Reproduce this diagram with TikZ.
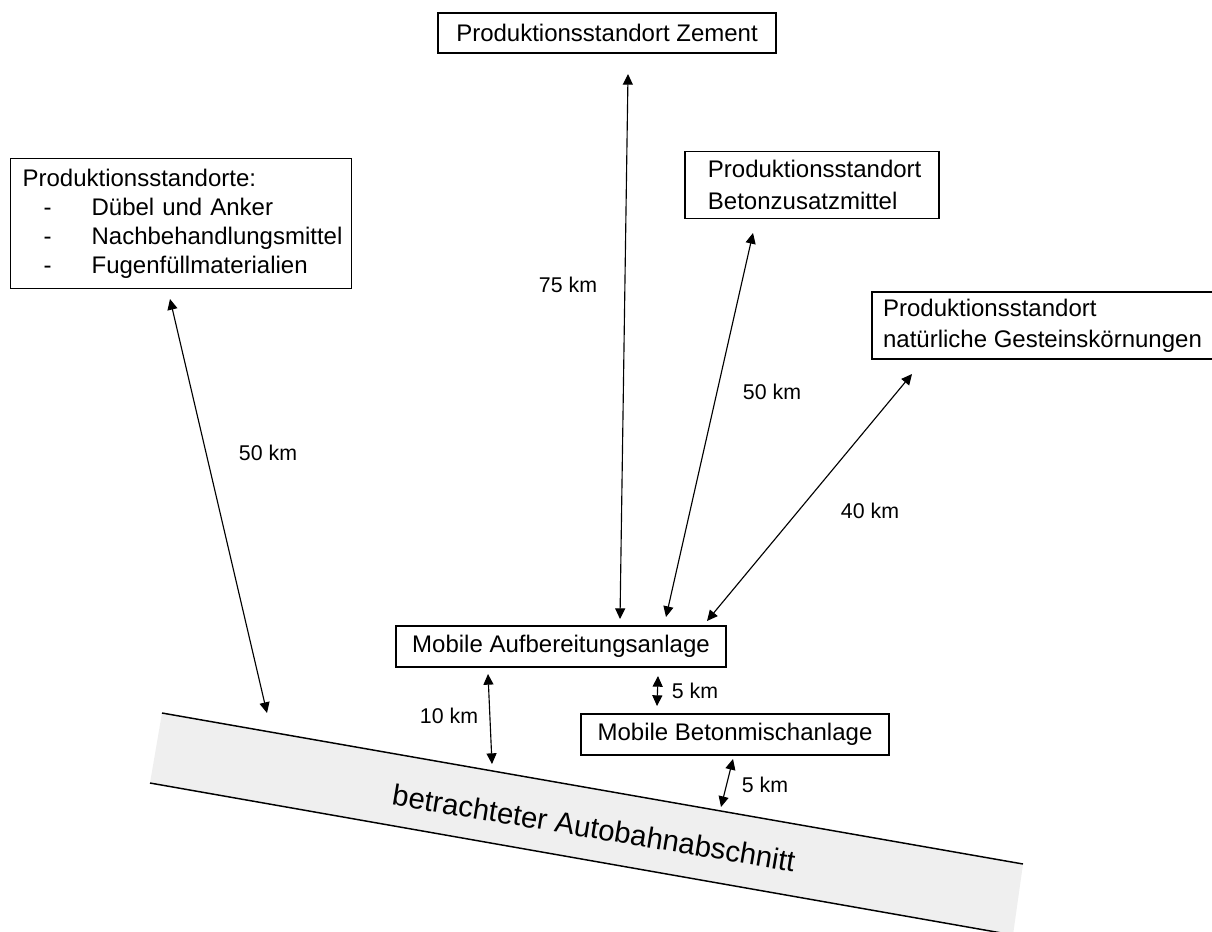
\documentclass[tikz,border=0pt]{standalone}
\usepackage{fontspec}
\setmainfont{Liberation Sans}
\usetikzlibrary{arrows.meta}
\definecolor{roadfill}{HTML}{EFEFEF}
\begin{document}
\begin{tikzpicture}[x=0.75pt,y=-0.75pt,
  box/.style={draw=black, line width=0.9pt, fill=white, inner sep=0pt,
    font=\fontsize{18}{21.6}\selectfont},
  twoline/.style={align=left, font=\fontsize{18}{23.5}\selectfont},
  dist/.style={line width=0.85pt,
    {Triangle[length=8pt,width=7.5pt]}-{Triangle[length=8pt,width=7.5pt]}},
  lbl/.style={font=\fontsize{16}{19}\selectfont, inner sep=0pt},
  edge/.style={line width=1.1pt},
]
\useasboundingbox (0,0) rectangle (1212,931);

% motorway section
\fill[roadfill] (162,713) -- (1023,864) -- (1013,935) -- (150,783) -- cycle;
\draw[edge] (162,713) -- (1023,864);
\draw[edge] (150,783) -- (1013,935);
\node[rotate=-9.5, inner sep=0pt, font=\fontsize{22}{26}\selectfont] (road) at (594,828)
  {betrachteter Autobahnabschnitt};

% production sites and plants
\node[box, minimum width=338*0.75pt, minimum height=40*0.75pt] (zement) at (607,33)
  {Produktionsstandort Zement};
\node[box, twoline, minimum width=254*0.75pt, minimum height=67*0.75pt] (zusatz) at (812,185)
  {\hspace*{4pt}Produktionsstandort\\\hspace*{4pt}Betonzusatzmittel};
\node[box, twoline, minimum width=341*0.75pt, minimum height=67*0.75pt] (gestein) at (1042.5,325.5)
  {Produktionsstandort\\natürliche Gesteinskörnungen};
\node[box, anchor=north west, align=left, font=\fontsize{18}{21.8}\selectfont,
  minimum width=341*0.75pt, minimum height=130*0.75pt, text width=317*0.75pt] (quellen) at (10,158)
  {Produktionsstandorte:\\
   \hspace*{15.75pt}\makebox[36pt][l]{-}Dübel und Anker\\
   \hspace*{15.75pt}\makebox[36pt][l]{-}Nachbehandlungsmittel\\
   \hspace*{15.75pt}\makebox[36pt][l]{-}Fugenfüllmaterialien};
\node[box, minimum width=330*0.75pt, minimum height=41*0.75pt] (aufb) at (561,646.5)
  {Mobile Aufbereitungsanlage};
\node[box, minimum width=308*0.75pt, minimum height=41*0.75pt] (misch) at (735,734.5)
  {Mobile Betonmischanlage};

% arrow end points
\coordinate (zA) at (628,74);  \coordinate (zB) at (620,619);
\coordinate (bA) at (753,233); \coordinate (bB) at (666,617);
\coordinate (gA) at (912,374); \coordinate (gB) at (707,621);
\coordinate (qA) at (170,299); \coordinate (qB) at (267,713);
\coordinate (aA) at (488,674); \coordinate (aB) at (492,764);
\coordinate (mA) at (658,676); \coordinate (mB) at (657,706);
\coordinate (rA) at (733,759); \coordinate (rB) at (721,807);

% transport distances
\draw[dist] (zA) -- (zB);
\draw[dist] (bA) -- (bB);
\draw[dist] (gA) -- (gB);
\draw[dist] (qA) -- (qB);
\draw[dist] (aA) -- (aB);
\draw[dist] (mA) -- (mB);
\draw[dist] (rA) -- (rB);

\node[lbl] (l75) at (568,285) {75 km};
\node[lbl] (l50a) at (268,453) {50 km};
\node[lbl] (l50b) at (772,392) {50 km};
\node[lbl] (l40) at (870,511) {40 km};
\node[lbl] (l10) at (449,716) {10 km};
\node[lbl] (l5a) at (695,691) {5 km};
\node[lbl] (l5b) at (765,785) {5 km};
\end{tikzpicture}
\end{document}
